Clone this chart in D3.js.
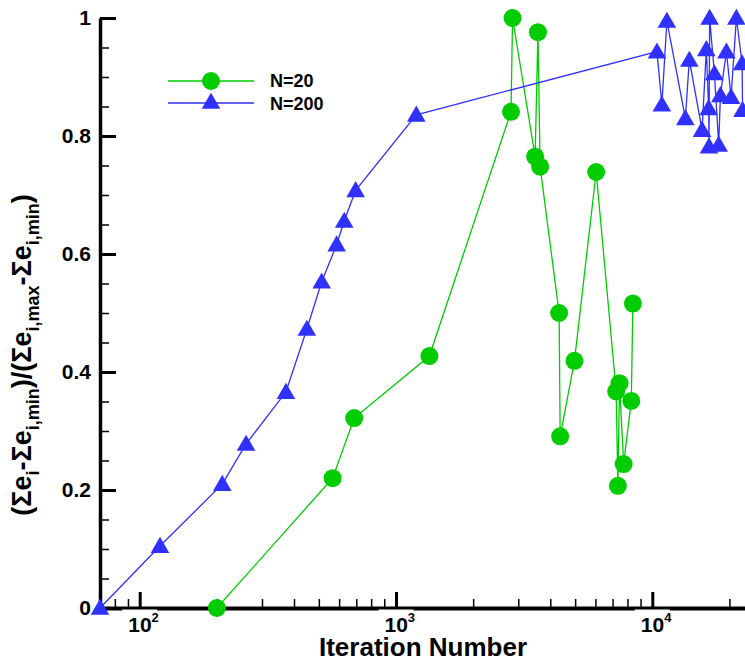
<!DOCTYPE html>
<html>
<head>
<meta charset="utf-8">
<script src="https://cdn.jsdelivr.net/npm/d3@7"></script>
<style>
  body { margin: 0; background: #fff; }
  #vis { width: 745px; height: 666px; overflow: hidden; }
  text { font-family: "Liberation Sans", Arial, sans-serif; font-weight: bold; }
</style>
</head>
<body>
<div id="vis"></div>
<script>
// data
const n20Iter = [200, 566, 687, 1350, 2810, 2850, 3490, 3580, 3650, 4330, 4370, 4970, 6040, 7230, 7340, 7450, 7730, 8280, 8400];
const n20Val  = [0, 0.22, 0.322, 0.427, 0.841, 1.0, 0.765, 0.976, 0.748, 0.5, 0.291, 0.419, 0.739, 0.367, 0.207, 0.381, 0.244, 0.351, 0.516];

const n200Iter = [70, 120, 210, 260, 372, 449, 513, 587, 628, 696, 1200, 10430, 10900, 11400, 13460, 13950, 15640, 16250, 16590, 16650, 16740, 17470, 18160, 18440, 19460, 20300, 21290, 22410, 22500];
const n200Val  = [0, 0.105, 0.21, 0.278, 0.366, 0.473, 0.553, 0.616, 0.656, 0.708, 0.836, 0.943, 0.853, 0.995, 0.830, 0.929, 0.810, 0.947, 0.847, 0.782, 1.0, 0.906, 0.785, 0.869, 0.943, 0.866, 1.0, 0.923, 0.844];

const xMajor = [100, 1000, 10000];
const xMinor = [80, 90, 200, 300, 400, 500, 600, 700, 800, 900, 2000, 3000, 4000, 5000, 6000, 7000, 8000, 9000, 20000];
const yMajor = [0, 0.2, 0.4, 0.6, 0.8, 1];
const yMinor = [0.05, 0.1, 0.15, 0.25, 0.3, 0.35, 0.45, 0.5, 0.55, 0.65, 0.7, 0.75, 0.85, 0.9, 0.95];

const seriesNames = ["N=20", "N=200"];
const green = "#00cc00", blue = "#3030ff";

const svg = d3.select("#vis")
  .append("svg")
    .attr("width", 745)
    .attr("height", 666);

// scales (log x)
const x = d3.scaleLog().domain([70, 23000]).range([100, 745]);
const y = d3.scaleLinear().domain([0, 1]).range([608, 18]);

// X axis
const xAx = svg.append("g")
    .attr("transform", "translate(0,608)")
    .call(d3.axisBottom(x).tickValues(xMajor).tickSizeInner(-16).tickSizeOuter(0).tickPadding(9).tickFormat(""));
xAx.select(".domain").attr("stroke-width", 4);
xAx.selectAll(".tick line").attr("stroke-width", 3);
xAx.selectAll(".tick").insert("rect", "text")
    .attr("x", -18).attr("y", 1.5).attr("width", 35).attr("height", 26)
    .attr("fill", "#fff");
xAx.selectAll(".tick text")
    .attr("text-anchor", "start")
    .attr("x", -12)
    .attr("fill", "#000")
    .style("font-size", "21px")
    .each(function(d) {
      const t = d3.select(this);
      t.append("tspan").text("10");
      t.append("tspan").attr("dy", "-10").style("font-size", "13px").text(Math.round(Math.log10(d)));
    });

svg.append("g")
    .attr("transform", "translate(0,608)")
    .call(d3.axisBottom(x).tickValues(xMinor).tickSizeInner(-9).tickSizeOuter(0).tickFormat(""))
    .call(g => g.select(".domain").remove())
    .selectAll(".tick line").attr("stroke-width", 1.5);

// Y axis
const yAx = svg.append("g")
    .attr("transform", "translate(100,0)")
    .call(d3.axisLeft(y).tickValues(yMajor).tickSizeInner(-16).tickSizeOuter(0).tickPadding(9).tickFormat(d3.format("")));
yAx.select(".domain").attr("stroke-width", 3.5);
yAx.selectAll(".tick line").attr("stroke-width", 3);
yAx.selectAll(".tick text").attr("fill", "#000").style("font-size", "21px");

svg.append("g")
    .attr("transform", "translate(100,0)")
    .call(d3.axisLeft(y).tickValues(yMinor).tickSizeInner(-9).tickSizeOuter(0).tickFormat(""))
    .call(g => g.select(".domain").remove())
    .selectAll(".tick line").attr("stroke-width", 1.5);

// axis titles
svg.append("text")
    .attr("x", 423).attr("y", 656)
    .attr("text-anchor", "middle")
    .style("font-size", "26px")
    .text("Iteration Number");

const yt = svg.append("text")
    .attr("transform", "translate(31,355) rotate(-90)")
    .attr("text-anchor", "middle")
    .style("font-size", "27px");
const parts = [["(Σe", 0], ["i", 1], ["-Σe", 0], ["i,min", 1], [")/(Σe", 0], ["i,max", 1], ["-Σe", 0], ["i,min", 1], [")", 0]];
let shifted = false;
parts.forEach(([s, sub]) => {
  const ts = yt.append("tspan").text(s);
  if (sub) { ts.attr("dy", shifted ? 0 : 8).style("font-size", "18px"); shifted = true; }
  else { ts.attr("dy", shifted ? -8 : 0); shifted = false; }
});

// lines
const line = d3.line().x(d => x(d[0])).y(d => y(d[1]));
const d20 = n20Iter.map((v, i) => [v, n20Val[i]]);
const d200 = n200Iter.map((v, i) => [v, n200Val[i]]);

svg.append("path").datum(d20)
    .attr("fill", "none").attr("stroke", green).attr("stroke-width", 1.3)
    .attr("d", line);
svg.append("path").datum(d200)
    .attr("fill", "none").attr("stroke", blue).attr("stroke-width", 1.3)
    .attr("d", line);

// markers
const tri = d3.symbol().type(d3.symbolTriangle).size(150);
svg.append("g").selectAll("circle")
    .data(d20)
    .join("circle")
      .attr("cx", d => x(d[0]))
      .attr("cy", d => y(d[1]))
      .attr("r", 9)
      .attr("fill", green);
svg.append("g").selectAll("path")
    .data(d200)
    .join("path")
      .attr("d", tri)
      .attr("transform", d => `translate(${x(d[0])},${y(d[1]) + 1.5})`)
      .attr("fill", blue);

// legend
const leg = svg.append("g");
leg.append("line").attr("x1", 168).attr("x2", 254).attr("y1", 81).attr("y2", 81)
    .attr("stroke", green).attr("stroke-width", 1.3);
leg.append("circle").attr("cx", 211).attr("cy", 81).attr("r", 9).attr("fill", green);
leg.append("line").attr("x1", 168).attr("x2", 254).attr("y1", 103).attr("y2", 103)
    .attr("stroke", blue).attr("stroke-width", 1.3);
leg.append("path").attr("d", tri).attr("transform", "translate(211,103.5)").attr("fill", blue);
seriesNames.forEach((name, i) => {
  leg.append("text")
      .attr("x", 270).attr("y", 87 + i * 23)
      .style("font-size", "18px")
      .text(name);
});
</script>
</body>
</html>
